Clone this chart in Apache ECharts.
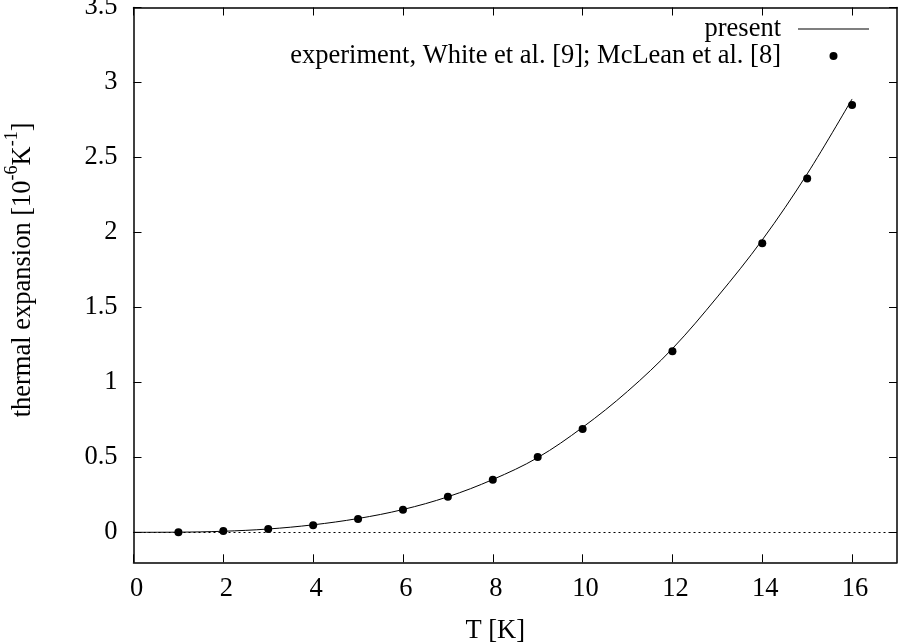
<!DOCTYPE html>
<html>
<head>
<meta charset="utf-8">
<script src="https://cdn.jsdelivr.net/npm/echarts@6/dist/echarts.min.js"></script>
<style>html,body{margin:0;padding:0;background:#fff;}#chart{width:899px;height:644px;}</style>
</head>
<body>
<div id="chart"></div>
<script>
// Experimental points: T [K] and thermal expansion [1e-6 / K]
var expT = [1, 2, 3, 4, 5, 6, 7, 8, 9, 10, 12, 14, 15, 16];
var expVal = [0.000, 0.009, 0.022, 0.047, 0.089, 0.151, 0.237, 0.351, 0.502, 0.689, 1.207, 1.927, 2.360, 2.849];
// "present" calculated curve
var curveT = [0, 1, 2, 3, 4, 5, 6, 7, 8, 9, 10, 11, 12, 13, 14, 15, 16];
var curveVal = [0.000, 0.001, 0.007, 0.022, 0.050, 0.092, 0.152, 0.237, 0.352, 0.498, 0.700, 0.940, 1.225, 1.570, 1.950, 2.390, 2.890];
var xTicks = [0, 2, 4, 6, 8, 10, 12, 14, 16];
var yTicks = [0, 0.5, 1, 1.5, 2, 2.5, 3, 3.5];
var seriesNames = ['present', 'experiment, White et al. [9]; McLean et al. [8]'];

var FONT = "'Liberation Serif', 'Times New Roman', serif";
var FS = 26.5;
var chart = echarts.init(document.getElementById('chart'), null, {renderer: 'canvas'});

function pairs(xs, ys) { return xs.map(function (x, i) { return [x, ys[i]]; }); }

var axisLine = {show: true, onZero: false, lineStyle: {color: '#000', width: 1.5}};
var tickStyle = {show: true, inside: true, length: 8, lineStyle: {color: '#000', width: 1}};

chart.setOption({
  animation: false,
  backgroundColor: '#fff',
  textStyle: {fontFamily: FONT},
  grid: {left: 133.5, right: 2, top: 7.5, bottom: 81.7, containLabel: false, outerBoundsMode: 'none'},
  legend: {
    data: [
      {name: seriesNames[0], icon: 'path://M0,0 L71,0 L71,1 L0,1 Z'},
      {name: seriesNames[1], icon: 'circle'}
    ],
    orient: 'vertical',
    align: 'right',
    right: 30,
    top: 15.5,
    padding: 0,
    itemWidth: 71,
    itemHeight: 8,
    itemGap: 0,
    selectedMode: false,
    itemStyle: {color: '#000', opacity: 1},
    textStyle: {fontFamily: FONT, fontSize: FS, lineHeight: 27, color: '#000', padding: [0, 12, 0, 0]}
  },
  xAxis: [{
    type: 'value', min: 0, max: 17, position: 'bottom',
    name: 'T [K]', nameLocation: 'middle', nameGap: 55,
    nameTextStyle: {fontFamily: FONT, fontSize: FS, color: '#000', padding: [0, 40, 0, 0]},
    axisLine: axisLine,
    axisTick: Object.assign({customValues: xTicks}, tickStyle),
    axisLabel: {customValues: xTicks, fontFamily: FONT, fontSize: FS, color: '#000', margin: 13, padding: [0, 0, 0, 6]},
    splitLine: {show: false}
  }, {
    type: 'value', min: 0, max: 17, position: 'top',
    axisLine: axisLine,
    axisTick: Object.assign({customValues: xTicks}, tickStyle),
    axisLabel: {show: false},
    splitLine: {show: false}
  }],
  yAxis: [{
    type: 'value', min: -0.2, max: 3.5, position: 'left',
    name: 'thermal expansion [10{sup|-6}K{sup|-1}]',
    nameLocation: 'middle', nameRotate: 90, nameGap: 90,
    nameTextStyle: {
      fontFamily: FONT, fontSize: FS, color: '#000', lineHeight: 40,
      padding: [0, 0, 0, 30],
      rich: {sup: {fontFamily: FONT, fontSize: 18, lineHeight: 18, verticalAlign: 'top', color: '#000'}}
    },
    axisLine: axisLine,
    axisTick: Object.assign({customValues: yTicks}, tickStyle),
    axisLabel: {customValues: yTicks, fontFamily: FONT, fontSize: FS, color: '#000', margin: 16},
    splitLine: {show: false}
  }, {
    type: 'value', min: -0.2, max: 3.5, position: 'right',
    axisLine: axisLine,
    axisTick: Object.assign({customValues: yTicks}, tickStyle),
    axisLabel: {show: false},
    splitLine: {show: false}
  }],
  series: [{
    name: seriesNames[0],
    type: 'line',
    xAxisIndex: 0, yAxisIndex: 0,
    data: pairs(curveT, curveVal),
    smooth: 0.35,
    symbol: 'none',
    lineStyle: {color: '#000', width: 1},
    itemStyle: {color: '#000'},
    z: 3,
    markLine: {
      silent: true,
      symbol: 'none',
      label: {show: false},
      lineStyle: {color: '#000', width: 1, type: [2, 3]},
      data: [{yAxis: 0}]
    }
  }, {
    name: seriesNames[1],
    type: 'scatter',
    xAxisIndex: 0, yAxisIndex: 0,
    data: pairs(expT, expVal),
    symbol: 'circle',
    symbolSize: 8,
    itemStyle: {color: '#000', opacity: 1},
    z: 4
  }]
});
</script>
</body>
</html>
